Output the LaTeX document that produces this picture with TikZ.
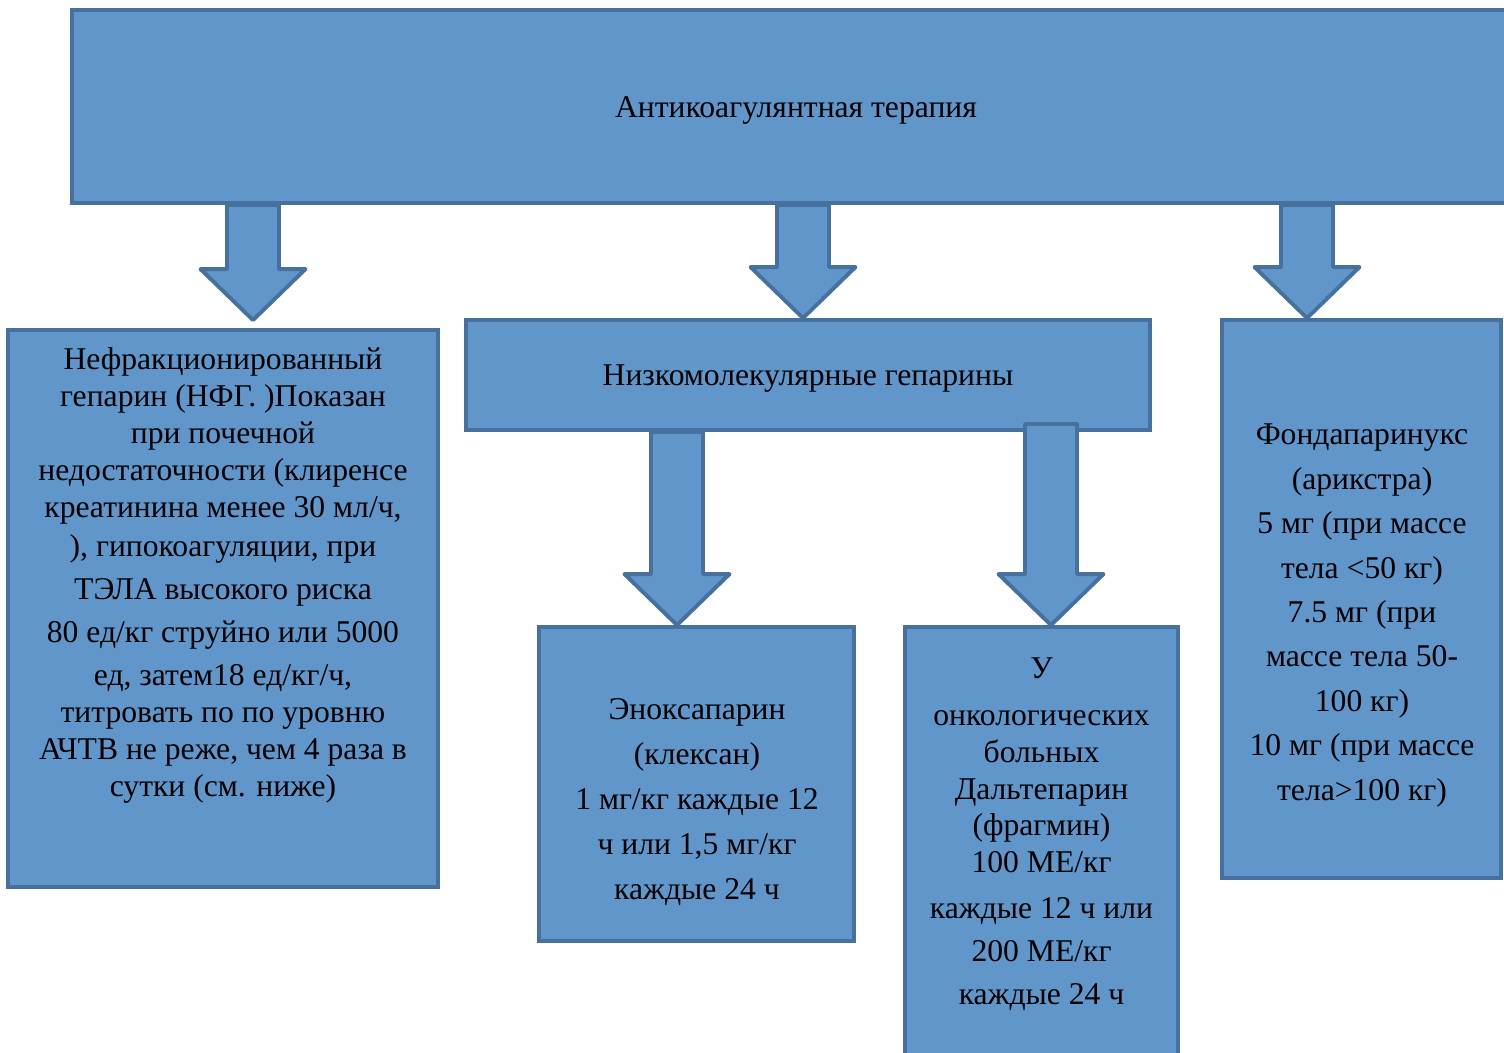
\documentclass[tikz,border=0pt]{standalone}
\usepackage{fontspec}
\setmainfont{Liberation Serif}
\usetikzlibrary{calc}
\definecolor{cfill}{HTML}{6096C9}
\definecolor{cline}{HTML}{46709D}
\tikzset{
  every picture/.style={line width=2.2pt},
  box/.style={draw=cline, fill=cfill, rectangle, inner sep=0pt, align=center,
    font=\fontsize{18}{21}\selectfont, text height=16.5pt, text depth=4pt},
  txt/.style={align=center, inner sep=0pt, yshift=-0.07cm},
  blk/.style={draw=cline, fill=cfill, line join=round},
}
% block arrow: from (shaft top) to (tip)
\newcommand\barrow[2]{%
  \draw[blk] ($(#1)+(-0.52,0)$) -- ($(#2)+(-0.52,1.02)$) -- ($(#2)+(-1.05,1.02)$)
    -- (#2) -- ($(#2)+(1.05,1.02)$) -- ($(#2)+(0.52,1.02)$) -- ($(#1)+(0.52,0)$) -- cycle;}

\begin{document}
\begin{tikzpicture}
  \useasboundingbox (0,0) rectangle (30.08,-21.04);
  % main box
  \node[box, minimum width=28.96cm, minimum height=3.86cm] (top) at (15.92,-2.13) {Антикоагулянтная терапия};
  % second row
  \node[box, minimum width=8.6cm, minimum height=11.14cm] (nfg) at (4.46,-12.17) {};
  \node[box, minimum width=13.68cm, minimum height=2.2cm] (lmwh) at (16.16,-7.5) {Низкомолекулярные гепарины};
  \node[box, minimum width=5.58cm, minimum height=11.16cm] (fonda) at (27.23,-11.98) {};
  % third row
  \node[box, minimum width=6.3cm, minimum height=6.28cm] (enox) at (13.93,-15.68) {};
  \node[box, minimum width=5.46cm, minimum height=8.7cm] (dalte) at (20.83,-16.89) {};
  % texts
  \node[txt, font=\fontsize{18}{21}\selectfont] (nfg-t) at (4.46,-11.44) {Нефракционированный\\гепарин (НФГ. )Показан\\при почечной\\недостаточности (клиренсе\\креатинина менее 30 мл/ч,\\[1.5pt]), гипокоагуляции, при\\[3.5pt]ТЭЛА высокого риска\\[3.5pt]80 ед/кг струйно или 5000\\[3.5pt]ед, затем18 ед/кг/ч,\\титровать по по уровню\\АЧТВ не реже, чем 4 раза в\\сутки (см. ниже)};
  \node[txt, font=\fontsize{18}{25.3}\selectfont] (fonda-t) at (27.24,-12.24) {Фондапаринукс\\(арикстра)\\5 мг (при массе\\тела <50 кг)\\7.5 мг (при\\массе тела 50-\\100 кг)\\10 мг (при массе\\тела>100 кг)};
  \node[txt, font=\fontsize{18}{25.6}\selectfont] (enox-t) at (13.94,-15.97) {Эноксапарин\\(клексан)\\1 мг/кг каждые 12\\ч или 1,5 мг/кг\\каждые 24 ч};
  \node[txt, font=\fontsize{18}{21}\selectfont] (dalte-t) at (20.83,-16.61) {У\\[5.7pt]онкологических\\больных\\Дальтепарин\\(фрагмин)\\100 МЕ/кг\\[5pt]каждые 12 ч или\\[3.4pt]200 МЕ/кг\\[3.4pt]каждые 24 ч};
  % arrows
  \coordinate (x1) at (5.06,0);
  \coordinate (x2) at (16.06,0);
  \coordinate (x3) at (26.14,0);
  \coordinate (x4) at (13.54,0);
  \coordinate (x5) at (21.02,0);
  \barrow{x1 |- top.south}{$(x1 |- nfg.north)+(0,0.16)$}
  \barrow{x2 |- top.south}{x2 |- lmwh.north}
  \barrow{x3 |- top.south}{x3 |- fonda.north}
  \barrow{x4 |- lmwh.south}{x4 |- enox.north}
  \barrow{$(x5 |- lmwh.south)+(0,0.16)$}{x5 |- enox.north}
\end{tikzpicture}
\end{document}
